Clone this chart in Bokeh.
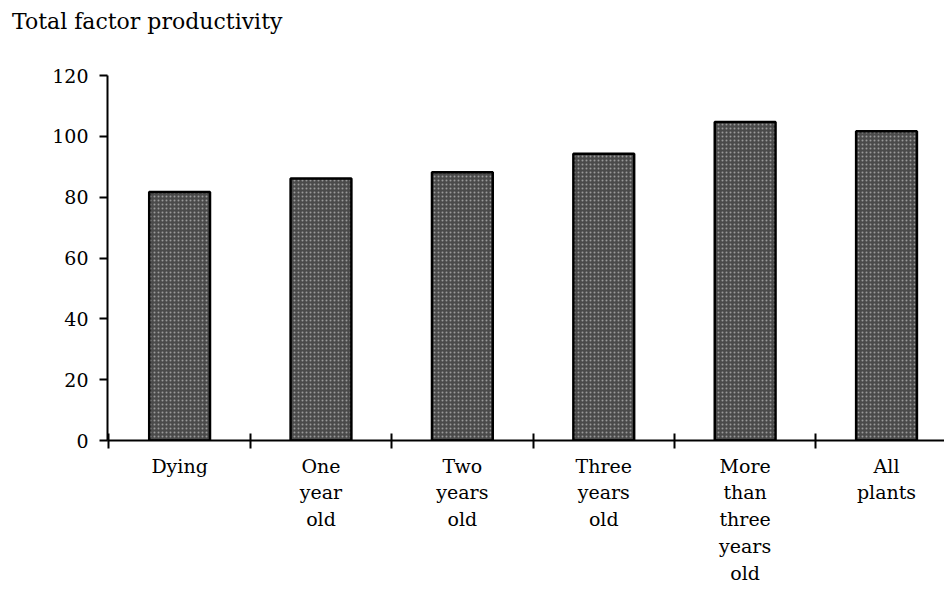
from bokeh.plotting import figure
from bokeh.models import LinearAxis, FixedTicker, Range1d, ColumnDataSource, Div
from bokeh.layouts import column
from bokeh.embed import file_html
from bokeh.resources import INLINE

# ---- data ----
categories = ["Dying", "One\nyear\nold", "Two\nyears\nold", "Three\nyears\nold",
              "More\nthan\nthree\nyears\nold", "All\nplants"]
values = [81.7, 86.1, 88.2, 94.3, 104.7, 101.7]
y_ticks = [0, 20, 40, 60, 80, 100, 120]
title_text = "Total factor productivity"

FONT = "DejaVu Serif"
TITLE_H = 46

centers = [i + 0.5 for i in range(len(categories))]
boundaries = list(range(len(categories)))

source = ColumnDataSource(dict(x=centers, top=values))

p = figure(width=944, height=589 - TITLE_H, output_backend="svg", toolbar_location=None,
           x_range=Range1d(-0.01, 5.91), y_range=Range1d(0, 120),
           x_axis_location=None, y_axis_location=None,
           min_border_left=107, min_border_right=0, min_border_top=75 - TITLE_H,
           min_border_bottom=149, margin=(0, 0, 0, 0))
p.outline_line_color = None
p.background_fill_color = "white"
p.border_fill_color = "white"
for g in p.grid:
    g.visible = False

p.vbar(x="x", top="top", width=0.43, source=source,
       fill_color="#4a4a4a", line_color="black", line_width=2.5,
       hatch_pattern=".", hatch_color="#9a9a9a", hatch_scale=4, hatch_weight=1.2)

# y axis
yax = LinearAxis(ticker=FixedTicker(ticks=y_ticks))
yax.axis_line_width = 2
yax.major_tick_line_width = 2
yax.major_tick_in = 0
yax.major_tick_out = 8
yax.minor_tick_line_color = None
yax.major_label_text_font = FONT
yax.major_label_text_font_size = "19px"
yax.major_label_text_color = "black"
yax.major_label_standoff = 11
p.add_layout(yax, "left")

# x axis: boundary ticks only
xax = LinearAxis(ticker=FixedTicker(ticks=boundaries))
xax.axis_line_width = 2
xax.major_tick_line_width = 2
xax.major_tick_in = 7
xax.major_tick_out = 8
xax.minor_tick_line_color = None
xax.major_label_text_font_size = "0px"
xax.major_label_overrides = {b: "" for b in boundaries}
xax.major_label_standoff = 0
p.add_layout(xax, "below")

# x axis: category labels at centers
lab = LinearAxis(ticker=FixedTicker(ticks=centers))
lab.axis_line_color = None
lab.major_tick_line_color = None
lab.minor_tick_line_color = None
lab.major_label_overrides = {c: t for c, t in zip(centers, categories)}
lab.major_label_text_font = FONT
lab.major_label_text_font_size = "19px"
lab.major_label_text_color = "black"
lab.major_label_text_line_height = 1.22
lab.major_label_standoff = 0
p.add_layout(lab, "below")

title = Div(
    text=('<div style="font-family:\'DejaVu Serif\';font-size:22px;color:black;'
          'margin:9px 0 0 12px;line-height:26px;white-space:nowrap">' + title_text + '</div>'),
    width=944, height=TITLE_H, margin=(0, 0, 0, 0))

layout = column(title, p, spacing=0, margin=(0, 0, 0, 0))

open("out.html", "w").write(file_html(layout, INLINE))
